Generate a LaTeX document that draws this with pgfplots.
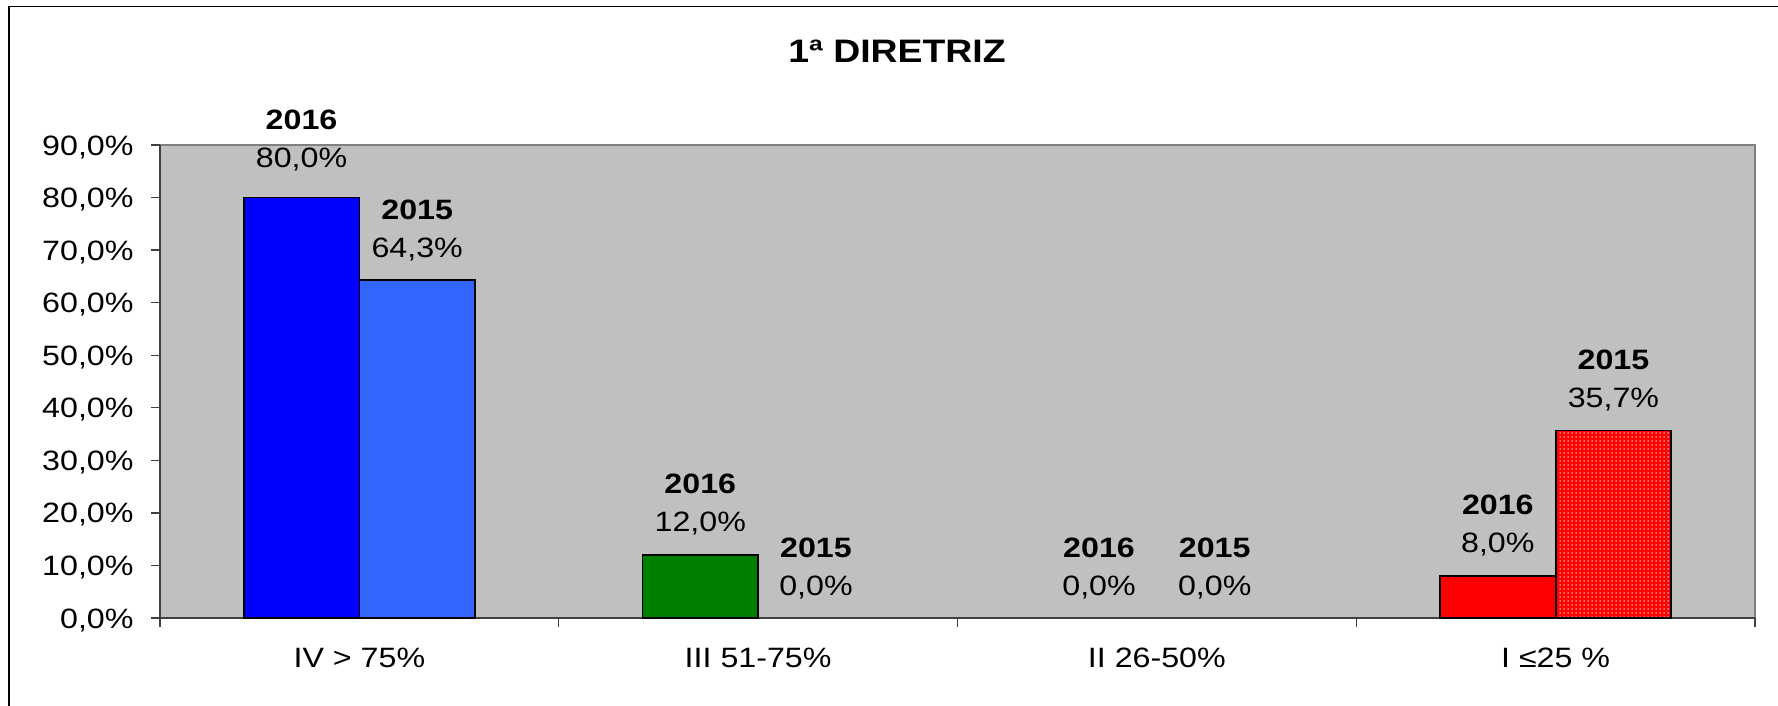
\documentclass[border=0pt]{standalone}
\usepackage{pgfplots}
\pgfplotsset{compat=1.18}
\usetikzlibrary{patterns.meta}
\usepackage{fontspec}
\setmainfont[FakeStretch=1.15]{Liberation Sans}
\definecolor{bgsilver}{RGB}{192,192,192}
\definecolor{cblue}{RGB}{0,0,255}
\definecolor{clblue}{RGB}{51,102,255}
\definecolor{cgreen}{RGB}{0,128,0}
\definecolor{cred}{RGB}{255,0,0}
\definecolor{bordergray}{RGB}{128,128,128}
\pgfkeys{/pgf/number format/.cd, use comma, fixed, fixed zerofill, precision=1, assume math mode=true}
\pgfplotsset{yearlabel/.style={nodes near coords={\begin{tabular}[b]{@{}c@{}}\textbf{#1}\\\pgfmathprintnumber{\pgfplotspointmeta}\%\end{tabular}}}}
\begin{document}
\begin{tikzpicture}
\path[use as bounding box] (0,0) rectangle (711.2pt,282pt);
\draw[line width=0.6pt] (3.6pt,-1pt) -- (3.6pt,279.3pt) -- (712pt,279.3pt);
\node[font=\bfseries\fontsize{13}{15}\selectfont] at (358.8pt,261.4pt) {1ª DIRETRIZ};
\begin{axis}[
 at={(64pt,34.8pt)}, anchor=south west,
 scale only axis, width=638pt, height=189.2pt,
 xmin=-0.5, xmax=3.5, ymin=0, ymax=90,
 axis x line*=bottom, axis y line*=left,
 axis line style={black!75, line width=0.5pt},
 axis background/.style={fill=bgsilver, draw=bordergray, line width=0.6pt},
 tick align=outside, major tick length=3.6pt,
 tick style={black!75, line width=0.5pt},
 ytick={0,10,...,90},
 yticklabel={\pgfmathprintnumber{\tick}\%},
 yticklabel style={anchor=base east, inner sep=0pt, xshift=-6.8pt, yshift=-4pt},
 xtick={-0.5,0.5,1.5,2.5,3.5}, xticklabels={,,,,},
 extra x ticks={0,1,2,3},
 extra x tick labels={IV > 75\%, III 51-75\%, II 26-50\%, I ≤25 \%},
 extra x tick style={major tick length=0pt, xticklabel style={anchor=base, inner sep=0pt, yshift=-19.8pt}},
 ticklabel style={font=\fontsize{11.2}{13}\selectfont},
 ybar, bar width=0.29, clip=false,
 every node near coord/.append style={font=\fontsize{11.2}{15.2}\selectfont, anchor=base, inner sep=0pt, yshift=9.2pt, text=black},
]
\addplot[fill=cblue, draw=black, line width=0.7pt, bar shift=-0.145, yearlabel=2016, every node near coord/.append style={yshift=2.8pt}] coordinates {(0,80.0)};
\addplot[fill=clblue, draw=black, line width=0.7pt, bar shift=0.145, yearlabel=2015] coordinates {(0,64.3)};
\addplot[fill=cgreen, draw=black, line width=0.7pt, bar shift=-0.145, yearlabel=2016] coordinates {(1,12.0)};
\addplot[fill=none, draw=none, bar shift=0.145, yearlabel=2015] coordinates {(1,0.0)};
\addplot[fill=none, draw=none, bar shift=-0.145, yearlabel=2016] coordinates {(2,0.0)};
\addplot[fill=none, draw=none, bar shift=0.145, yearlabel=2015] coordinates {(2,0.0)};
\addplot[fill=cred, draw=black, line width=0.7pt, bar shift=-0.145, yearlabel=2016] coordinates {(3,8.0)};
\addplot[fill=cred, draw=black, line width=0.7pt, bar shift=0.145, yearlabel=2015, postaction={pattern={Dots[distance=1.6pt,radius=0.3pt]}, pattern color=white}] coordinates {(3,35.7)};
\end{axis}
\end{tikzpicture}
\end{document}
